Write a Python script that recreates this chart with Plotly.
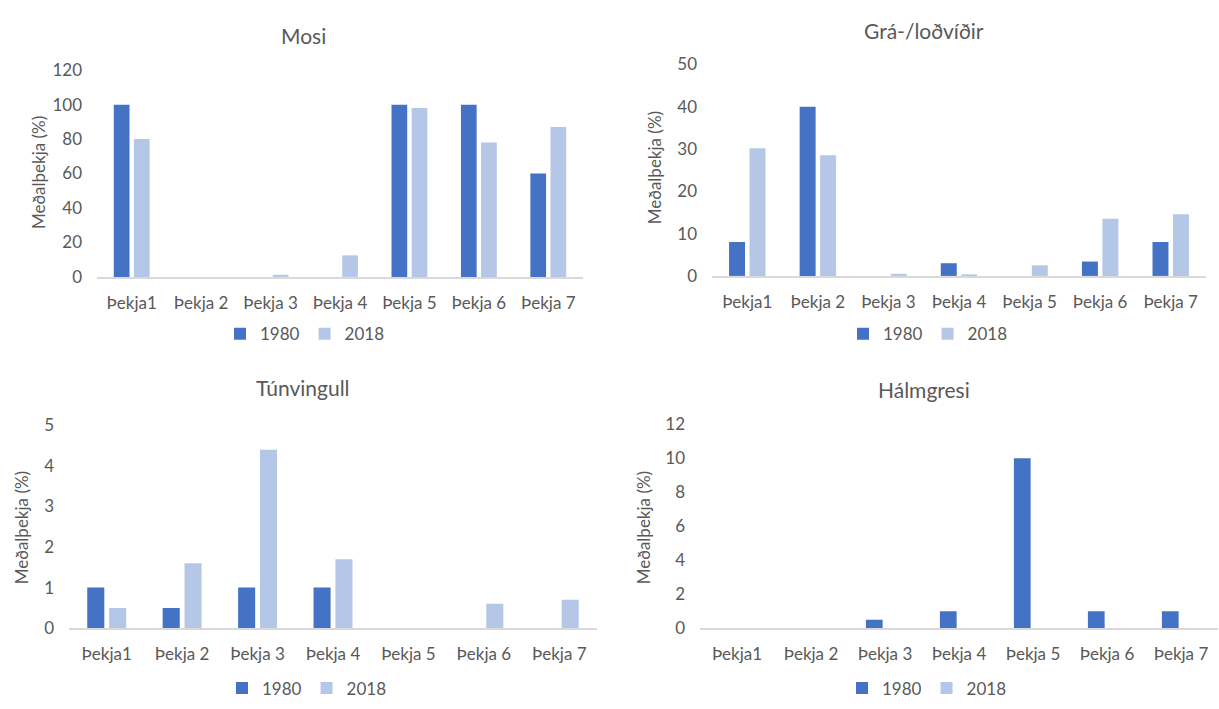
import plotly.graph_objects as go

categories = ["Þekja1", "Þekja 2", "Þekja 3", "Þekja 4", "Þekja 5", "Þekja 6", "Þekja 7"]
series_names = ["1980", "2018"]

mosi_1980 = [100, 0, 0, 0, 100, 100, 60]
mosi_2018 = [80, 0, 1.2, 12.5, 98, 78, 87]

gra_1980 = [8, 40, 0, 3, 0, 3.4, 8]
gra_2018 = [30.2, 28.5, 0.5, 0.3, 2.5, 13.5, 14.6]

tun_1980 = [1, 0.5, 1, 1, 0, 0, 0]
tun_2018 = [0.5, 1.6, 4.4, 1.7, 0, 0.6, 0.7]

halm_1980 = [0, 0, 0.5, 1, 10, 1, 1]
halm_2018 = [0, 0, 0, 0, 0, 0, 0]

titles = ["Mosi", "Grá-/loðvíðir", "Túnvingull", "Hálmgresi"]
y_ranges = [[0, 120], [0, 50], [0, 5], [0, 12]]
y_dticks = [20, 10, 1, 2]
y_title = "Meðalþekja (%)"

colors = ["#4472C4", "#B4C7E7"]
W, H = 1219, 709
FONT = "Lato, Calibri, Carlito, sans-serif"
TXT = "#595959"

def px(x):
    return x / W

def py(y):
    return 1 - y / H

# plot areas in pixels: (x0, x1, ytop, ybottom)
areas = [(97, 583, 61, 274), (712, 1206, 55, 273), (69, 597, 427, 636), (700, 1218, 426, 636)]
title_pos = [(303, 25), (924, 20), (303, 388), (924, 390)]
ytitle_pos = [(38, 167), (654, 161), (21, 533), (643, 533)]
legend_pos = [(305, 333), (928, 333), (307, 698), (927, 698)]

data = [(mosi_1980, mosi_2018), (gra_1980, gra_2018), (tun_1980, tun_2018), (halm_1980, halm_2018)]

fig = go.Figure()
for i, (s1, s2) in enumerate(data):
    n = "" if i == 0 else str(i + 1)
    leg = "legend" if i == 0 else f"legend{i + 1}"
    for name, vals, col in zip(series_names, (s1, s2), colors):
        fig.add_trace(go.Bar(x=categories, y=vals, name=name, marker_color=col,
                             marker_line_width=0, xaxis="x" + n, yaxis="y" + n,
                             legend=leg, hoverinfo="x+y+name"))

layout = dict(width=W, height=H, margin=dict(l=0, r=0, t=0, b=0),
              paper_bgcolor="white", plot_bgcolor="white",
              barmode="group", bargap=0.42, bargroupgap=0.22,
              font=dict(family=FONT, color=TXT), annotations=[])

for i in range(4):
    n = "" if i == 0 else str(i + 1)
    x0, x1, yt, yb = areas[i]
    layout["xaxis" + n] = dict(domain=[px(x0), px(x1)], anchor="y" + n,
                               showline=True, linecolor="#D9D9D9", linewidth=1.5,
                               ticks="", showgrid=False, zeroline=False,
                               tickfont=dict(size=17, color=TXT, family=FONT),
                               ticklabelstandoff=10, fixedrange=True)
    layout["yaxis" + n] = dict(domain=[py(yb), py(yt)], anchor="x" + n,
                               range=y_ranges[i], dtick=y_dticks[i], tick0=0,
                               showline=False, showgrid=False, zeroline=False,
                               ticks="", tickfont=dict(size=17, color=TXT, family=FONT),
                               ticklabelstandoff=14, fixedrange=True)
    leg = "legend" if i == 0 else f"legend{i + 1}"
    lx, ly = legend_pos[i]
    layout[leg] = dict(orientation="h", x=px(lx), y=py(ly), xanchor="center", yanchor="middle",
                       font=dict(size=17, color=TXT, family=FONT), bgcolor="rgba(0,0,0,0)",
                       itemwidth=30, tracegroupgap=0)
    tx, ty = title_pos[i]
    layout["annotations"].append(dict(text=titles[i], x=px(tx), y=py(ty), xref="paper", yref="paper",
                                      showarrow=False, xanchor="center", yanchor="middle",
                                      font=dict(size=21, color=TXT, family=FONT)))
    ax, ay = ytitle_pos[i]
    layout["annotations"].append(dict(text=y_title, x=px(ax), y=py(ay), xref="paper", yref="paper",
                                      showarrow=False, xanchor="center", yanchor="middle", textangle=-90,
                                      font=dict(size=17, color=TXT, family=FONT)))

fig.update_layout(**layout)
fig.write_html("out.html", config={"displayModeBar": False},
               post_script="document.body.style.margin='0';document.body.style.overflow='hidden';")
